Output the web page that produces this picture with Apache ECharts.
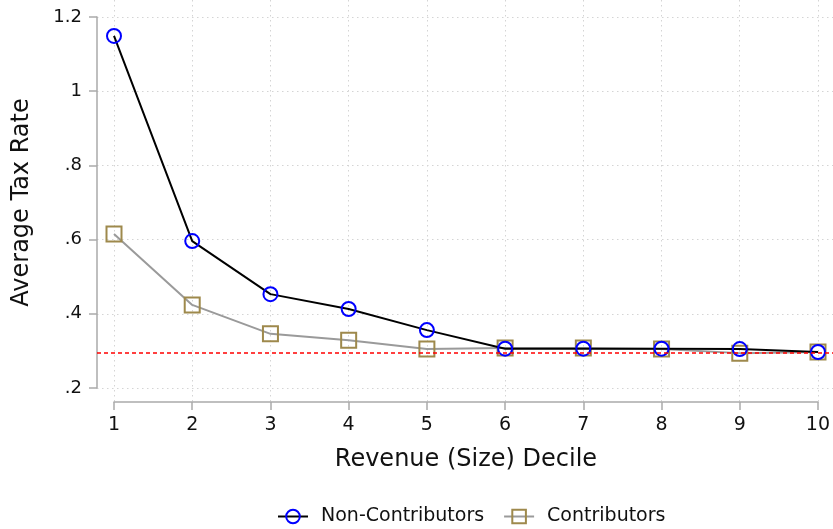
<!DOCTYPE html>
<html>
<head>
<meta charset="utf-8">
<script src="https://cdn.jsdelivr.net/npm/echarts@6/dist/echarts.min.js"></script>
<style>
html,body{margin:0;padding:0;background:#fff;}
#chart{width:833px;height:529px;}
</style>
</head>
<body>
<div id="chart"></div>
<script>
const deciles = [1, 2, 3, 4, 5, 6, 7, 8, 9, 10];
const nonContributors = [1.149, 0.596, 0.453, 0.413, 0.356, 0.306, 0.306, 0.306, 0.305, 0.297];
const contributors = [0.615, 0.424, 0.346, 0.329, 0.305, 0.308, 0.308, 0.305, 0.294, 0.297];
const referenceRate = 0.296;
const yTickLabels = {0.2: '.2', 0.4: '.4', 0.6: '.6', 0.8: '.8', 1: '1', 1.2: '1.2'};

const FONT = 'DejaVu Sans';
const axisGray = '#aaaaaa';
const gridStyle = {color: '#d4d4d4', width: 1, type: [1.5, 3.5]};

const chart = echarts.init(document.getElementById('chart'), null, {renderer: 'canvas'});
chart.setOption({
  animation: false,
  backgroundColor: '#ffffff',
  textStyle: {fontFamily: FONT},
  grid: [
    {left: 97, right: 0, top: 17, height: 371},
    {left: 114, width: 704, top: 0, height: 402},
    {left: 114, width: 704, top: 17, height: 371}
  ],
  xAxis: [
    {gridIndex: 0, type: 'value', min: 0, max: 1, show: false},
    {
      gridIndex: 1, type: 'value', min: 1, max: 10, interval: 1,
      position: 'bottom', offset: 2,
      name: 'Revenue (Size) Decile', nameLocation: 'middle', nameGap: 44,
      nameTextStyle: {fontFamily: FONT, fontSize: 24, color: '#111'},
      axisLine: {show: true, lineStyle: {color: axisGray, width: 1.5}},
      axisTick: {show: true, length: 8, lineStyle: {color: axisGray, width: 1.5}},
      axisLabel: {show: true, fontFamily: FONT, fontSize: 19, color: '#111', margin: 12},
      splitLine: {show: true, lineStyle: gridStyle}
    },
    {gridIndex: 2, type: 'value', min: 1, max: 10, show: false}
  ],
  yAxis: [
    {
      gridIndex: 0, type: 'value', min: 0.2, max: 1.2, interval: 0.2,
      name: 'Average Tax Rate', nameLocation: 'middle', nameGap: 63,
      nameTextStyle: {fontFamily: FONT, fontSize: 24, color: '#111'},
      axisLine: {show: true, lineStyle: {color: axisGray, width: 1.5}},
      axisTick: {show: true, length: 8, lineStyle: {color: axisGray, width: 1.5}},
      axisLabel: {
        show: true, fontFamily: FONT, fontSize: 18, color: '#111', margin: 15,
        formatter: v => yTickLabels[Math.round(v * 10) / 10] || ''
      },
      splitLine: {show: true, lineStyle: gridStyle}
    },
    {gridIndex: 1, type: 'value', min: 0, max: 1, show: false},
    {gridIndex: 2, type: 'value', min: 0.2, max: 1.2, show: false}
  ],
  legend: {
    top: 502, left: 272,
    itemWidth: 30, itemHeight: 17, itemGap: 19,
    textStyle: {fontFamily: FONT, fontSize: 19, color: '#111', padding: [0, 0, 0, 8]},
    data: ['Non-Contributors', 'Contributors']
  },
  series: [
    {
      type: 'line', xAxisIndex: 0, yAxisIndex: 0, data: [],
      silent: true,
      markLine: {
        silent: true, precision: 4, symbol: ['none', 'none'], label: {show: false},
        lineStyle: {color: '#ff0000', type: [4, 3], width: 1.5},
        data: [{yAxis: referenceRate}]
      }
    },
    {
      name: 'Non-Contributors', type: 'line', xAxisIndex: 2, yAxisIndex: 2,
      data: deciles.map((d, i) => [d, nonContributors[i]]),
      symbol: 'circle', symbolSize: 14,
      lineStyle: {color: '#000000', width: 2},
      itemStyle: {color: 'transparent', borderColor: '#0000ff', borderWidth: 2},
      z: 3
    },
    {
      name: 'Contributors', type: 'line', xAxisIndex: 2, yAxisIndex: 2,
      data: deciles.map((d, i) => [d, contributors[i]]),
      symbol: 'rect', symbolSize: 15,
      lineStyle: {color: '#9a9a9a', width: 2},
      itemStyle: {color: 'transparent', borderColor: '#9e894c', borderWidth: 2},
      z: 2
    }
  ]
});
</script>
</body>
</html>
